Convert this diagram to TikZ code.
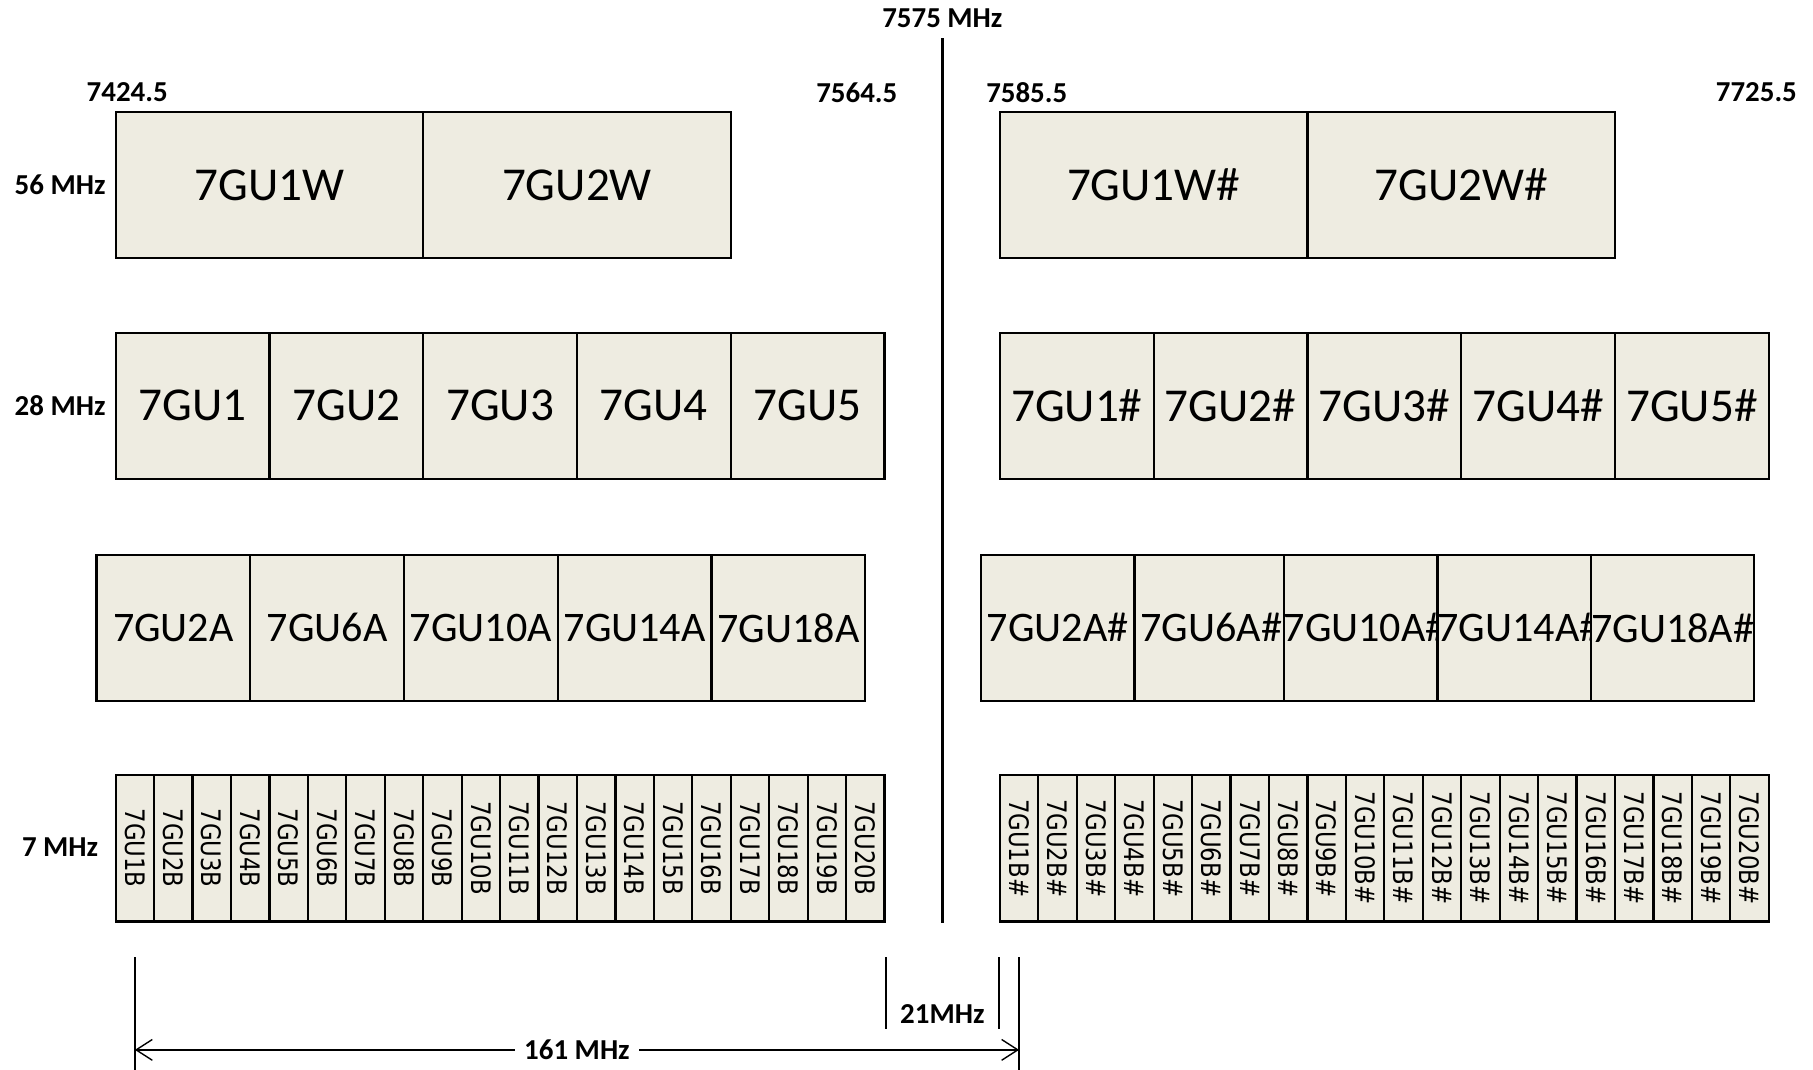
\documentclass[tikz,border=0pt]{standalone}
\usepackage{fontspec}
\setmainfont{Carlito}
\newfontfamily\vertfont[FakeStretch=0.85]{DejaVu Sans}
\usetikzlibrary{arrows.meta,positioning,calc}
\definecolor{cellfill}{HTML}{EEECE1}

\tikzset{
  cell/.style={draw,fill=cellfill,line width=.95pt,inner sep=0pt,minimum height=63pt},
  wcell/.style={cell,minimum width=133pt,font=\fontsize{20.4}{24}\selectfont},
  ccell/.style={cell,minimum width=66.5pt,font=\fontsize{20.4}{24}\selectfont},
  acell/.style={cell,minimum width=66.5pt,font=\fontsize{18.2}{22}\selectfont},
  bcell/.style={cell,rotate=-90,minimum width=63.5pt,minimum height=16.625pt,font=\vertfont\fontsize{11.6}{13}\selectfont},
  freq/.style={font=\bfseries\fontsize{12.5}{15}\selectfont,inner sep=1pt},
  dimline/.style={line width=.9pt},
}

\begin{document}
\begin{tikzpicture}[x=1pt,y=-1pt,scale=.5]
    \useasboundingbox (0,0) rectangle (1568,925);
    \node[freq] (f7575) at (815,16) {7575 MHz}; %centre
    \node[freq] (f74245) at (110,80) {7424.5};
    \node[freq] (f75645) at (741,80) {7564.5};
    \node[freq] (f75855) at (888,80) {7585.5};
    \node[freq] (f77255) at (1519,80) {7725.5};
    \node[freq] (bw56) at (52,160) {56 MHz};
    \node[freq] (bw28) at (52,351) {28 MHz};
    \node[freq] (bw7) at (52,733) {7 MHz};
    % 56 MHz
    \node[wcell] (lw1) at (233,160) {7GU1W};
    \node[wcell] (lw2) at (499,160) {7GU2W};
    \node[wcell] (rw1) at (997.75,160) {7GU1W\#};
    \node[wcell] (rw2) at (1263.75,160) {7GU2W\#};
    % 28 MHz
    \foreach \i in {1,...,5}{
      \node[ccell] (lc\i) at ({166.5+133*(\i-1)},351) {7GU\i};
      \node[ccell] (rc\i) at ({931.25+133*(\i-1)},351) {7GU\i\#};
    }
    % 14 MHz
    \foreach \n [count=\i] in {2,6,10,14,18}{
      \node[acell] (la\i) at ({149.875+133*(\i-1)},543) {7GU\n A};
      \node[acell] (ra\i) at ({914.625+133*(\i-1)},543) {7GU\n A\#};
    }
    % 7 MHz
    \foreach \i in {1,...,20}{
      \node[bcell] (lb\i) at ({116.625+33.25*(\i-1)},733.5) {7GU\i B};
      \node[bcell] (rb\i) at ({881.375+33.25*(\i-1)},733.5) {7GU\i B\#};
    }
    \coordinate (ctop) at (815,33);
    \draw[line width=1pt] (ctop) -- (ctop |- lb1.east); %7575
    % spans
    \coordinate (dl) at (lb1.center |- 0,908);
    \coordinate (dr) at (rb1.center |- 0,908);
    \draw[dimline] (lb1.center |- 0,828) -- (lb1.center |- 0,925);
    \draw[dimline] (rb1.center |- 0,828) -- (rb1.center |- 0,925);
    \draw[dimline] (lb20.north |- 0,828) -- (lb20.north |- 0,890);
    \draw[dimline] (rb1.south |- 0,828) -- (rb1.south |- 0,890);
    \draw[line width=.6pt,{Straight Barb[length=7pt,width=9pt]}-{Straight Barb[length=7pt,width=9pt]}] (dl) -- (dr)
      node[midway,freq,fill=white,inner xsep=4pt] (w161) {161 MHz};
    \node[freq] (w21) at (815,877) {21MHz};
\end{tikzpicture}
\end{document}
